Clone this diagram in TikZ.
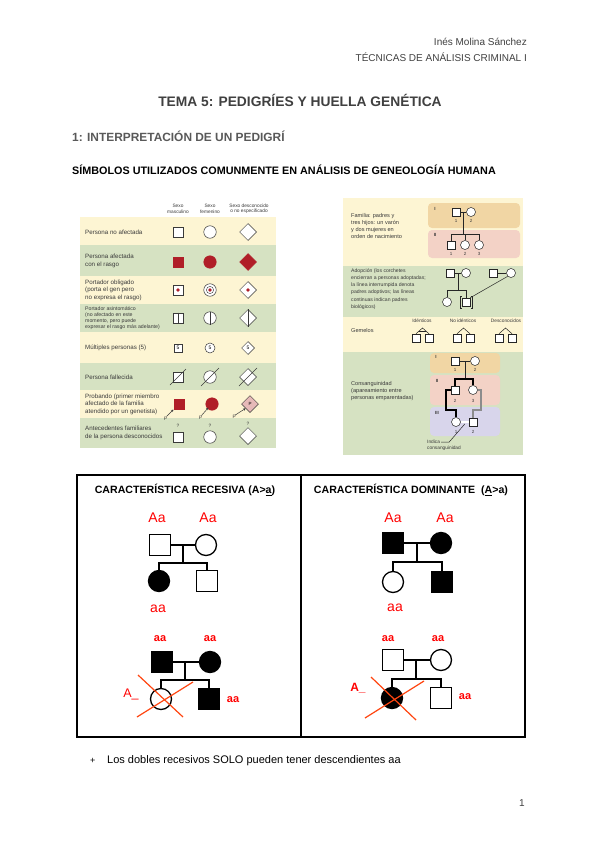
\documentclass[tikz,border=0pt]{standalone}
\usepackage{fontspec}
\setmainfont{Liberation Sans}
\usetikzlibrary{shapes.geometric,calc,arrows.meta}
\definecolor{hdrgray}{HTML}{404040}
\definecolor{secgray}{HTML}{595959}
\definecolor{tcream}{HTML}{FDF5D3}
\definecolor{tgreen}{HTML}{D6E2C2}
\definecolor{tred}{HTML}{B01E28}
\definecolor{tpink}{HTML}{E6B9B8}
\definecolor{ptxt}{HTML}{3A3A3A}
\definecolor{porange}{HTML}{F1D6A4}
\definecolor{ppink}{HTML}{F3D2C6}
\definecolor{plav}{HTML}{D8D5EB}
\definecolor{gred}{HTML}{FF0000}
\definecolor{xred}{HTML}{FF4510}
\begin{document}
\begin{tikzpicture}[x=1pt,y=-1pt,
  txt/.style={inner sep=0pt, text height=0.72em, text depth=0pt},
  smalltxt/.style={inner sep=0pt, text=ptxt, align=left, font=\fontsize{5.6}{7}\selectfont},
  tabtxt/.style={inner sep=0pt, text=ptxt, align=left, font=\fontsize{6.2}{7.6}\selectfont},
  tinytxt/.style={inner sep=0pt, text=ptxt, align=center, font=\fontsize{4.8}{5.4}\selectfont},
  tsq/.style={draw=ptxt, fill=white, rectangle, minimum size=10.5pt, inner sep=0pt, line width=0.5pt},
  tci/.style={draw=ptxt, fill=white, circle, minimum size=12.5pt, inner sep=0pt, line width=0.5pt},
  tdi/.style={draw=ptxt, fill=white, diamond, minimum size=17pt, inner sep=0pt, line width=0.5pt},
  psq/.style={draw=black!85, fill=white, rectangle, minimum size=8pt, inner sep=0pt, line width=0.5pt},
  pci/.style={draw=black!85, fill=white, circle, minimum size=9pt, inner sep=0pt, line width=0.5pt},
  pl/.style={line width=0.5pt, black!85},
  cl/.style={line width=1.2pt, black},
  numtxt/.style={inner sep=0pt, text=ptxt, font=\fontsize{4.5}{5}\selectfont},
  bsq/.style={draw=black, fill=white, rectangle, minimum size=21pt, inner sep=0pt, line width=1.3pt},
  bci/.style={draw=black, fill=white, circle, minimum size=21pt, inner sep=0pt, line width=1.3pt},
  bl/.style={line width=1.3pt},
  gen/.style={inner sep=0pt, text=gred, font=\fontsize{14}{14}\selectfont},
  genb/.style={inner sep=0pt, text=gred, font=\fontsize{11}{11}\selectfont\bfseries},
  xl/.style={xred, line width=1.2pt},
]
\useasboundingbox[fill=white] (0,0) rectangle (600,848);

% ---------- header ----------
\node[txt, anchor=east, text=hdrgray, font=\fontsize{10}{12}\selectfont] (auth) at (527,42) {Inés Molina Sánchez};
\node[txt, anchor=east, text=hdrgray, font=\fontsize{10}{12}\selectfont] (course) at (527,58) {TÉCNICAS DE ANÁLISIS CRIMINAL I};
\node[txt, text=hdrgray, font=\fontsize{13.8}{15}\selectfont\bfseries] (title) at (300,103) {TEMA 5: PEDIGRÍES Y HUELLA GENÉTICA};
\node[txt, anchor=west, text=secgray, font=\fontsize{11.9}{13}\selectfont\bfseries] (sec) at (72,138) {1: INTERPRETACIÓN DE UN PEDIGRÍ};
\node[txt, anchor=west, font=\fontsize{10.8}{12}\selectfont\bfseries] (sub) at (72,171) {SÍMBOLOS UTILIZADOS COMUNMENTE EN ANÁLISIS DE GENEOLOGÍA HUMANA};

% ---------- left symbol table ----------
\fill[tcream] (80,217) rectangle (276,245);
\fill[tgreen] (80,245) rectangle (276,276);
\fill[tcream] (80,276) rectangle (276,304);
\fill[tgreen] (80,304) rectangle (276,332);
\fill[tcream] (80,332) rectangle (276,363);
\fill[tgreen] (80,363) rectangle (276,390);
\fill[tcream] (80,390) rectangle (276,418);
\fill[tgreen] (80,418) rectangle (276,448);

\node[tinytxt] (hm) at (178,209) {Sexo\\masculino};
\node[tinytxt] (hf) at (210,209) {Sexo\\femenino};
\node[tinytxt] (hu) at (249,209) {Sexo desconocido\\o no especificado};

\node[tabtxt, anchor=west] (r1) at (85,232) {Persona no afectada};
\node[tabtxt, anchor=west] (r2) at (85,261) {Persona afectada\\con el rasgo};
\node[tabtxt, anchor=west] (r3) at (85,290) {Portador obligado\\(porta el gen pero\\no expresa el rasgo)};
\node[tabtxt, anchor=west, font=\fontsize{5.2}{6.2}\selectfont] (r4) at (85,318) {Portador asintomático\\(no afectado en este\\momento, pero puede\\expresar el rasgo más adelante)};
\node[tabtxt, anchor=west] (r5) at (85,348) {Múltiples personas (5)};
\node[tabtxt, anchor=west] (r6) at (85,377) {Persona fallecida};
\node[tabtxt, anchor=west] (r7) at (85,404) {Probando (primer miembro\\afectado de la familia\\atendido por un genetista)};
\node[tabtxt, anchor=west] (r8) at (85,433) {Antecedentes familiares\\de la persona desconocidos};

% row 1
\node[tsq] (s1) at (178,232) {};
\node[tci] (c1) at (210,232) {};
\node[tdi] (d1) at (248,232) {};
% row 2
\node[tsq, fill=tred, draw=tred] (s2) at (178,262) {};
\node[tci, fill=tred, draw=tred] (c2) at (210,262) {};
\node[tdi, fill=tred, draw=tred] (d2) at (248,262) {};
% row 3
\node[tsq] (s3) at (178,290) {};
\node[tci] (c3) at (210,290) {};
\node[tdi] (d3) at (248,290) {};
\fill[tred] (s3.center) circle (1.8);
\draw[ptxt, line width=0.4pt] (c3.center) circle (3.6);
\fill[tred] (c3.center) circle (1.8);
\fill[tred] (d3.center) circle (1.8);
% row 4
\node[tsq] (s4) at (178,318) {};
\node[tci] (c4) at (210,318) {};
\node[tdi] (d4) at (248,318) {};
\draw[ptxt, line width=0.5pt] (s4.north) -- (s4.south);
\draw[ptxt, line width=0.5pt] (c4.north) -- (c4.south);
\draw[ptxt, line width=0.5pt] (d4.north) -- (d4.south);
% row 5
\node[tsq, minimum size=8pt, font=\fontsize{5}{5}\selectfont] (s5) at (178,348) {5};
\node[tci, minimum size=10pt, font=\fontsize{5}{5}\selectfont] (c5) at (210,348) {5};
\node[tdi, minimum size=13pt, font=\fontsize{5}{5}\selectfont] (d5) at (248,348) {5};
% row 6
\node[tsq] (s6) at (178,377) {};
\node[tci] (c6) at (210,377) {};
\node[tdi] (d6) at (248,377) {};
\draw[ptxt, line width=0.5pt] ($(s6.center)+(-8,8)$) -- ($(s6.center)+(8,-8)$);
\draw[ptxt, line width=0.5pt] ($(c6.center)+(-9,9)$) -- ($(c6.center)+(9,-9)$);
\draw[ptxt, line width=0.5pt] ($(d6.center)+(-9,9)$) -- ($(d6.center)+(9,-9)$);
% row 7
\node[tsq, fill=tred, draw=tred] (s7) at (179,404) {};
\node[tci, fill=tred, draw=tred] (c7) at (212,404) {};
\node[tdi, fill=tpink, font=\fontsize{4.5}{5}\selectfont] (d7) at (250,404) {P};
\draw[ptxt, line width=0.5pt, -{Stealth[length=2.5pt,width=2.5pt]}] ($(s7.south west)+(-7,7)$) -- (s7.south west);
\draw[ptxt, line width=0.5pt, -{Stealth[length=2.5pt,width=2.5pt]}] ($(c7.south west)+(-6,7)$) -- ($(c7.south west)+(1,-1)$);
\draw[ptxt, line width=0.5pt, -{Stealth[length=2.5pt,width=2.5pt]}] ($(d7.west)+(-6,11)$) -- ($(d7.south west)+(0,0)$);
\node[tinytxt] (p1) at ($(s7.south west)+(-8,9)$) {P};
\node[tinytxt] (p2) at ($(c7.south west)+(-7,9)$) {P};
\node[tinytxt] (p3) at ($(d7.west)+(-7,13)$) {P};
% row 8
\node[tsq] (s8) at (178,437) {};
\node[tci] (c8) at (210,437) {};
\node[tdi] (d8) at (248,436) {};
\node[tinytxt] (q1) at (178,426) {?};
\node[tinytxt] (q2) at (210,426) {?};
\node[tinytxt] (q3) at (248,424) {?};

% ---------- right panel ----------
\fill[tcream] (343,198) rectangle (523,455);
\fill[tgreen] (343,266) rectangle (523,317);
\fill[tgreen] (343,352) rectangle (523,455);

\fill[porange, rounded corners=4] (428,203) rectangle (520,228);
\fill[ppink, rounded corners=4] (428,230) rectangle (520,258);
\node[numtxt, font=\fontsize{4.5}{5}\selectfont\bfseries] (g1) at (435,209) {I};
\node[numtxt, font=\fontsize{4.5}{5}\selectfont\bfseries] (g2) at (435,235) {II};

\node[smalltxt, anchor=west] (famt) at (351,226) {Familia: padres y\\tres hijos: un varón\\y dos mujeres en\\orden de nacimiento};

\node[psq] (fa) at (456,212) {};
\node[pci] (mo) at (471,212) {};
\draw[pl] (fa) -- (mo);
\coordinate (fm) at (463.5,212);
\coordinate (fb) at (463.5,234);
\draw[pl] (fm) -- (fb);
\node[psq] (k1) at (451,245) {};
\node[pci] (k2) at (465,245) {};
\node[pci] (k3) at (479,245) {};
\draw[pl] (k1.north) -- (k1.north |- fb) -- (k3.north |- fb) -- (k3.north);
\draw[pl] (k2.north) -- (k2.north |- fb);
\node[numtxt] (n1) at (456,221) {1};
\node[numtxt] (n2) at (471,221) {2};
\node[numtxt] (n3) at (451,254) {1};
\node[numtxt] (n4) at (465,254) {2};
\node[numtxt] (n5) at (479,254) {3};

% adoption
\node[smalltxt, anchor=west, font=\fontsize{5.1}{7.2}\selectfont] (adt) at (351,289) {Adopción (los corchetes\\encierran a personas adoptadas;\\la línea interrumpida denota\\padres adoptivos; las líneas\\continuas indican padres\\biológicos)};
\node[psq] (a1f) at (450,273) {};
\node[pci] (a1m) at (466,273) {};
\draw[pl] (a1f) -- (a1m);
\coordinate (a1c) at (458,273);
\coordinate (a1b) at (458,290);
\draw[pl] (a1c) -- (a1b);
\node[pci] (ac1) at (447,302) {};
\node[psq] (ac2) at (466,302) {};
\draw[pl] (ac1.north) -- (ac1.north |- a1b) -- (ac2.north |- a1b) -- (ac2.north);
\draw[pl] (461.5,296) -- (460,296) -- (460,308) -- (461.5,308);
\draw[pl] (470.5,296) -- (472,296) -- (472,308) -- (470.5,308);
\node[psq] (a2f) at (493,273) {};
\node[pci] (a2m) at (511,273) {};
\draw[pl] (a2f) -- (a2m);
\draw[pl] (a2m.south west) -- (ac2.north east);

% twins
\node[smalltxt, anchor=west] (gemt) at (351,330) {Gemelos};
\node[tinytxt] (tl1) at (422,321) {Idénticos};
\node[tinytxt] (tl2) at (463,321) {No idénticos};
\node[tinytxt] (tl3) at (506,321) {Desconocidos};
\node[psq] (t1a) at (416,338) {};
\node[psq] (t1b) at (429,338) {};
\coordinate (t1p) at (422.5,328);
\draw[pl] (t1a.north) -- (t1p) -- (t1b.north);
\draw[pl] ($(t1p)!0.55!(t1a.north)$) -- ($(t1p)!0.55!(t1b.north)$);
\node[psq] (t2a) at (457,338) {};
\node[psq] (t2b) at (470,338) {};
\coordinate (t2p) at (463.5,328);
\draw[pl] (t2a.north) -- (t2p) -- (t2b.north);
\node[psq] (t3a) at (499,338) {};
\node[psq] (t3b) at (512,338) {};
\coordinate (t3p) at (505.5,328);
\draw[pl] (t3a.north) -- (t3p) -- (t3b.north);

% consanguinity
\fill[porange, rounded corners=4] (430,353) rectangle (500,373);
\fill[ppink, rounded corners=4] (430,375) rectangle (500,405);
\fill[plav, rounded corners=4] (430,407) rectangle (500,436);
\node[numtxt, font=\fontsize{4.5}{5}\selectfont\bfseries] (h1) at (436,357) {I};
\node[numtxt, font=\fontsize{4.5}{5}\selectfont\bfseries] (h2) at (437,381) {II};
\node[numtxt, font=\fontsize{4.5}{5}\selectfont\bfseries] (h3) at (437,413) {III};
\node[smalltxt, anchor=west] (cont) at (351,391) {Consanguinidad\\(apareamiento entre\\personas emparentadas)};

\node[psq] (q1f) at (455,361) {};
\node[pci] (q1m) at (475,361) {};
\draw[pl] (q1f) -- (q1m);
\coordinate (q1c) at (465,361);
\coordinate (q1b) at (465,379);
\draw[pl] (q1c) -- (q1b);
\node[psq] (q2s) at (455,390) {};
\node[pci] (q2d) at (473,390) {};
\node[pci] (q3a) at (456,422) {};
\node[psq] (q3b) at (473,422) {};
\draw[cl] (q2s.north) -- (q2s.north |- q1b) -- (q2d.north |- q1b) -- (q2d.north);
\draw[cl] (q2s.west) -- (446,390) -- (446,410) -- (456,410) -- (q3a.north);
\draw[cl, black!45] (q2d.east) -- (481,390) -- (481,410) -- (473,410) -- (q3b.north);
\draw[pl, double, double distance=1.2pt] (q3a) -- (q3b);
\node[numtxt] (m1) at (455,370) {1};
\node[numtxt] (m2) at (475,370) {2};
\node[numtxt] (m3) at (455,401) {2};
\node[numtxt] (m4) at (473,401) {3};
\node[numtxt] (m5) at (456,432) {1};
\node[numtxt] (m6) at (473,432) {2};
\node[tinytxt, anchor=west] (ind) at (427,442) {Indica};
\node[tinytxt, anchor=west] (indb) at (427,448) {consanguinidad};
\coordinate (dbl) at ($(q3a.east)!0.5!(q3b.west)+(0,2)$);
\draw[pl] (ind.east) ++(1,0) -- ++(8,0) -- (dbl);

% ---------- bottom table ----------
\draw[line width=1.3pt] (77,475) rectangle (525,737);
\draw[line width=1.3pt] (301,475) -- (301,737);
\node[txt, font=\fontsize{10.6}{12}\selectfont\bfseries] (rech) at (185,490) {CARACTERÍSTICA RECESIVA (A>\underline{a})};
\node[txt, font=\fontsize{10.6}{12}\selectfont\bfseries] (domh) at (411,490) {CARACTERÍSTICA DOMINANTE~~(\underline{A}>a)};

% left pedigree 1
\node[gen] (l1g1) at (157,518) {Aa};
\node[gen] (l1g2) at (208,518) {Aa};
\node[bsq] (l1f) at (160,545) {};
\node[bci] (l1m) at (206,545) {};
\draw[bl] (l1f) -- (l1m);
\coordinate (l1c) at (183,545);
\coordinate (l1b) at (183,563);
\draw[bl] (l1c) -- (l1b);
\node[bci, fill=black] (l1d) at (159,581) {};
\node[bsq] (l1s) at (207,581) {};
\draw[bl] (l1d.north) -- (l1d.north |- l1b) -- (l1s.north |- l1b) -- (l1s.north);
\node[gen] (l1g3) at (158,609) {aa};

% left pedigree 2
\node[genb] (l2g1) at (160,639) {aa};
\node[genb] (l2g2) at (210,639) {aa};
\node[bsq, fill=black] (l2f) at (162,662) {};
\node[bci, fill=black] (l2m) at (210,662) {};
\draw[bl] (l2f) -- (l2m);
\coordinate (l2c) at (185,662);
\coordinate (l2b) at (185,680);
\draw[bl] (l2c) -- (l2b);
\node[bci] (l2d) at (161,699) {};
\node[bsq, fill=black] (l2s) at (209,699) {};
\draw[bl] (l2d.north) -- (l2d.north |- l2b) -- (l2s.north |- l2b) -- (l2s.north);
\node[genb] (l2g3) at (233,700) {aa};
\node[inner sep=0pt, text=gred, font=\fontsize{12.5}{12}\selectfont] (l2g4) at (131,694) {A\_};
\draw[xl] (138,675) -- (183,717);
\draw[xl] (137,717) -- (193,682);

% right pedigree 1
\node[gen] (r1g1) at (393,518) {Aa};
\node[gen] (r1g2) at (445,518) {Aa};
\node[bsq, fill=black] (r1f) at (393,543) {};
\node[bci, fill=black] (r1m) at (441,543) {};
\draw[bl] (r1f) -- (r1m);
\coordinate (r1c) at (417,543);
\coordinate (r1b) at (417,562);
\draw[bl] (r1c) -- (r1b);
\node[bci] (r1d) at (393,582) {};
\node[bsq, fill=black] (r1s) at (442,582) {};
\draw[bl] (r1d.north) -- (r1d.north |- r1b) -- (r1s.north |- r1b) -- (r1s.north);
\node[gen] (r1g3) at (395,608) {aa};

% right pedigree 2
\node[genb] (r2g1) at (388,639) {aa};
\node[genb] (r2g2) at (438,639) {aa};
\node[bsq] (r2f) at (393,660) {};
\node[bci] (r2m) at (441,660) {};
\draw[bl] (r2f) -- (r2m);
\coordinate (r2c) at (416,660);
\coordinate (r2b) at (416,679);
\draw[bl] (r2c) -- (r2b);
\node[bci, fill=black] (r2d) at (392,698) {};
\node[bsq] (r2s) at (441,698) {};
\draw[bl] (r2d.north) -- (r2d.north |- r2b) -- (r2s.north |- r2b) -- (r2s.north);
\node[genb] (r2g3) at (465,697) {aa};
\node[inner sep=0pt, text=gred, font=\fontsize{12}{12}\selectfont\bfseries] (r2g4) at (358,688) {A\_};
\draw[xl] (371,677) -- (416,720);
\draw[xl] (365,718) -- (424,681);

% ---------- bullet and page number ----------
\node[txt, anchor=west, font=\fontsize{9}{11}\selectfont] (bul) at (90,760) {+};
\node[txt, anchor=west, font=\fontsize{11}{12}\selectfont] (btxt) at (107,760) {Los dobles recesivos SOLO pueden tener descendientes aa};
\node[txt, font=\fontsize{10}{12}\selectfont, text=hdrgray] (pg) at (522,803) {1};
\end{tikzpicture}
\end{document}
